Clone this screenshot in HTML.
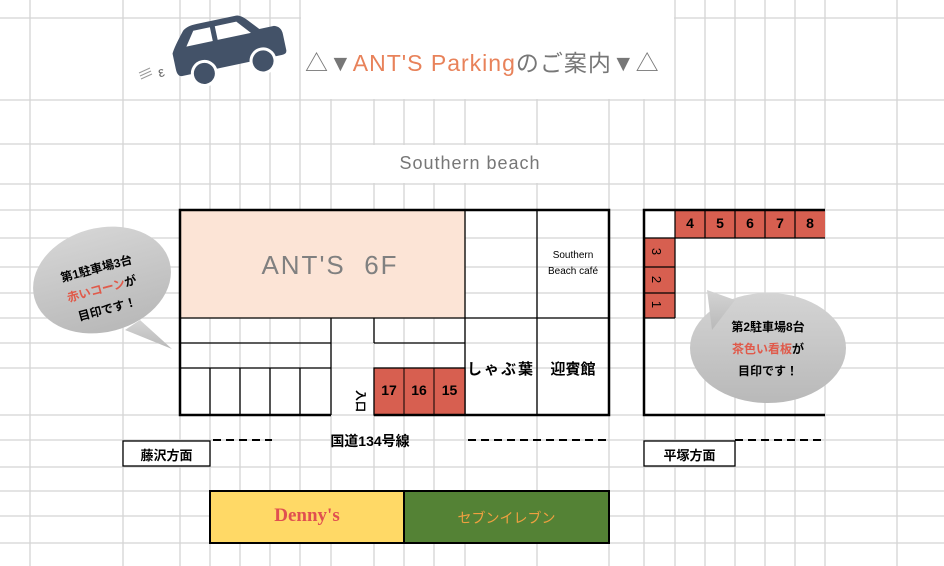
<!DOCTYPE html>
<html><head><meta charset="utf-8"><style>
body{margin:0;width:944px;height:566px;overflow:hidden;background:#fff;font-family:"Liberation Sans","Noto Sans CJK JP",sans-serif}
.a{position:absolute}
</style></head><body>
<svg class="a" style="left:0;top:0" width="944" height="566">
<defs>
<linearGradient id="g" x1="0" y1="0" x2="0" y2="1"><stop offset="0" stop-color="#d4d4d4"/><stop offset="1" stop-color="#b9b9b9"/></linearGradient>
</defs>
<g stroke="#d4d4d4" stroke-width="1.3">
<line x1="30" y1="0" x2="30" y2="566"/><line x1="123" y1="0" x2="123" y2="566"/>
<line x1="180" y1="0" x2="180" y2="566"/><line x1="210" y1="0" x2="210" y2="566"/>
<line x1="240" y1="0" x2="240" y2="566"/><line x1="270" y1="0" x2="270" y2="566"/>
<line x1="300" y1="0" x2="300" y2="566"/><line x1="331" y1="0" x2="331" y2="566"/>
<line x1="374" y1="0" x2="374" y2="566"/><line x1="404" y1="0" x2="404" y2="566"/>
<line x1="434" y1="0" x2="434" y2="566"/><line x1="465" y1="0" x2="465" y2="566"/>
<line x1="537" y1="0" x2="537" y2="566"/><line x1="609" y1="0" x2="609" y2="566"/>
<line x1="644" y1="0" x2="644" y2="566"/><line x1="675" y1="0" x2="675" y2="566"/>
<line x1="705" y1="0" x2="705" y2="566"/><line x1="735" y1="0" x2="735" y2="566"/>
<line x1="765" y1="0" x2="765" y2="566"/><line x1="795" y1="0" x2="795" y2="566"/>
<line x1="825" y1="0" x2="825" y2="566"/><line x1="897" y1="0" x2="897" y2="566"/>
<line x1="0" y1="18" x2="944" y2="18"/><line x1="0" y1="100" x2="944" y2="100"/>
<line x1="0" y1="144" x2="944" y2="144"/><line x1="0" y1="184" x2="944" y2="184"/>
<line x1="0" y1="210" x2="944" y2="210"/><line x1="0" y1="238" x2="944" y2="238"/>
<line x1="0" y1="267" x2="944" y2="267"/><line x1="0" y1="293" x2="944" y2="293"/>
<line x1="0" y1="318" x2="944" y2="318"/><line x1="0" y1="343" x2="944" y2="343"/>
<line x1="0" y1="368" x2="944" y2="368"/><line x1="0" y1="415" x2="944" y2="415"/>
<line x1="0" y1="440" x2="944" y2="440"/><line x1="0" y1="467" x2="944" y2="467"/>
<line x1="0" y1="491" x2="944" y2="491"/><line x1="0" y1="516" x2="944" y2="516"/>
<line x1="0" y1="543" x2="944" y2="543"/>
</g>
<!-- white title areas -->
<rect x="301" y="0" width="373" height="99" fill="#fff"/>
<rect x="332" y="145" width="276" height="38" fill="#fff"/>
<!-- car -->
<g transform="translate(228,50) rotate(-12)" fill="#435268">
<path d="M-55,8 L-55,-8 Q-52,-14 -40,-28 Q-36,-32 -25,-32 L15,-32 Q20,-32 28,-22 L35,-14 L50,-14 Q57,-12 57,-4 L57,12 Q57,16 52,16 L-50,16 Q-55,16 -55,8Z"/>
<path d="M-40,-12 L-30,-26 L-13,-26 L-13,-12Z M-8,-12 L-8,-26 L14,-26 L26,-12Z" fill="#fff"/>
<circle cx="-28" cy="18" r="12" stroke="#fff" stroke-width="3"/>
<circle cx="32" cy="18" r="12" stroke="#fff" stroke-width="3"/>
</g>
<g stroke="#999" stroke-width="1"><line x1="139" y1="73" x2="150" y2="68"/><line x1="140" y1="76" x2="151" y2="71"/><line x1="141" y1="79" x2="152" y2="74"/></g>
<text x="158" y="77" font-size="14" fill="#666" transform="rotate(-15 160 72)">ε</text>
<!-- main building -->
<rect x="180" y="210" width="285" height="108" fill="#fce4d6"/>
<g stroke="#000" stroke-width="1.3" fill="none">
<line x1="180" y1="318" x2="609" y2="318"/>
<line x1="180" y1="343" x2="331" y2="343"/><line x1="374" y1="343" x2="465" y2="343"/>
<line x1="180" y1="368" x2="331" y2="368"/>
<line x1="331" y1="318" x2="331" y2="415"/><line x1="374" y1="318" x2="374" y2="343"/>
<line x1="210" y1="368" x2="210" y2="415"/><line x1="240" y1="368" x2="240" y2="415"/>
<line x1="270" y1="368" x2="270" y2="415"/><line x1="300" y1="368" x2="300" y2="415"/>
<line x1="465" y1="210" x2="465" y2="415"/><line x1="537" y1="210" x2="537" y2="415"/>
</g>
<rect x="374" y="368" width="91" height="47" fill="#d75f50" stroke="#000" stroke-width="1.3"/>
<line x1="404" y1="368" x2="404" y2="415" stroke="#000"/><line x1="434" y1="368" x2="434" y2="415" stroke="#000"/>
<g stroke="#000" stroke-width="2.5" fill="none">
<path d="M331,415 L180,415 L180,210 L609,210 L609,415 L374,415"/>
</g>
<!-- right lot -->
<rect x="675" y="210" width="150" height="28" fill="#d75f50"/>
<rect x="644" y="238" width="31" height="80" fill="#d75f50"/>
<g stroke="#000" stroke-width="1.2">
<line x1="675" y1="210" x2="675" y2="238"/><line x1="705" y1="210" x2="705" y2="238"/><line x1="735" y1="210" x2="735" y2="238"/><line x1="765" y1="210" x2="765" y2="238"/><line x1="795" y1="210" x2="795" y2="238"/>
<line x1="644" y1="238" x2="825" y2="238"/><line x1="644" y1="267" x2="675" y2="267"/><line x1="644" y1="293" x2="675" y2="293"/><line x1="644" y1="318" x2="675" y2="318"/><line x1="675" y1="238" x2="675" y2="318"/>
</g>
<path d="M825,210 L644,210 L644,415 L825,415" stroke="#000" stroke-width="2.5" fill="none"/>
<!-- road -->
<g stroke="#000" stroke-width="2" stroke-dasharray="8,5">
<line x1="213" y1="440" x2="272" y2="440"/><line x1="468" y1="440" x2="609" y2="440"/><line x1="735" y1="440" x2="825" y2="440"/>
</g>
<rect x="123" y="441" width="87" height="25" fill="#fff" stroke="#000" stroke-width="1.3"/>
<rect x="644" y="441" width="91" height="25" fill="#fff" stroke="#000" stroke-width="1.3"/>
<rect x="210" y="491" width="194" height="52" fill="#ffd966" stroke="#000" stroke-width="2"/>
<rect x="404" y="491" width="205" height="52" fill="#548235" stroke="#000" stroke-width="2"/>
<!-- bubbles -->
<g fill="url(#g)">
<ellipse cx="102" cy="280" rx="70" ry="52" transform="rotate(-15 102 280)"/>
<path d="M140,320 L172,349 L125,330Z"/>
<ellipse cx="768" cy="348" rx="78" ry="55"/>
<path d="M735,300 L707,290 L712,330Z"/>
</g>
</svg>
<div class="a" style="left:305px;top:44px;font-size:23px;color:#777;white-space:nowrap;letter-spacing:1px">△▼<span style="color:#e8825a">ANT'S Parking</span>のご案内▼△</div>
<div class="a" style="left:331px;top:153px;width:278px;text-align:center;font-size:18px;color:#777;letter-spacing:1px">Southern beach</div>
<div class="a" style="left:180px;top:250px;width:300px;text-align:center;font-size:26px;color:#808080;letter-spacing:2px">ANT'S&nbsp;&nbsp;6F</div>
<div class="a" style="left:537px;top:248px;width:72px;text-align:center;font-size:10px;line-height:16px;color:#000">Southern<br>Beach café</div>
<div class="a" style="left:465px;top:358px;width:72px;text-align:center;font-size:15px;font-weight:bold;letter-spacing:2px">しゃぶ葉</div>
<div class="a" style="left:537px;top:358px;width:72px;text-align:center;font-size:15px;font-weight:bold">迎賓館</div>
<div class="a" style="left:374px;top:382px;width:30px;text-align:center;font-size:14px;font-weight:bold">17</div>
<div class="a" style="left:404px;top:382px;width:30px;text-align:center;font-size:14px;font-weight:bold">16</div>
<div class="a" style="left:434px;top:382px;width:31px;text-align:center;font-size:14px;font-weight:bold">15</div>
<div class="a" style="left:350px;top:393px;font-size:11px;transform:rotate(90deg);font-weight:bold">入口</div>
<div class="a" style="left:675px;top:215px;width:150px;display:flex;font-size:14px;font-weight:bold"><span style="width:30px;text-align:center">4</span><span style="width:30px;text-align:center">5</span><span style="width:30px;text-align:center">6</span><span style="width:30px;text-align:center">7</span><span style="width:30px;text-align:center">8</span></div>
<div class="a" style="left:653px;top:244px;font-size:13px;transform:rotate(90deg)">3</div>
<div class="a" style="left:653px;top:272px;font-size:13px;transform:rotate(90deg)">2</div>
<div class="a" style="left:653px;top:297px;font-size:13px;transform:rotate(90deg)">1</div>
<div class="a" style="left:272px;top:431px;width:196px;text-align:center;font-size:14px;font-weight:bold">国道134号線</div>
<div class="a" style="left:123px;top:445px;width:87px;text-align:center;font-size:13px;font-weight:bold">藤沢方面</div>
<div class="a" style="left:644px;top:445px;width:91px;text-align:center;font-size:13px;font-weight:bold">平塚方面</div>
<div class="a" style="left:210px;top:505px;width:194px;text-align:center;font-size:19px;font-weight:bold;color:#e05050;font-family:'Liberation Serif',serif">Denny's</div>
<div class="a" style="left:404px;top:508px;width:205px;text-align:center;font-size:14px;color:#f0a040">セブンイレブン</div>
<div class="a" style="left:42px;top:258px;width:120px;text-align:center;font-size:12px;font-weight:bold;line-height:21px;transform:rotate(-15deg)">第1駐車場3台<br><span style="color:#e05a4a">赤いコーン</span>が<br>目印です！</div>
<div class="a" style="left:708px;top:316px;width:120px;text-align:center;font-size:12px;font-weight:bold;line-height:22px">第2駐車場8台<br><span style="color:#e05a4a">茶色い看板</span>が<br>目印です！</div>
</body></html>
